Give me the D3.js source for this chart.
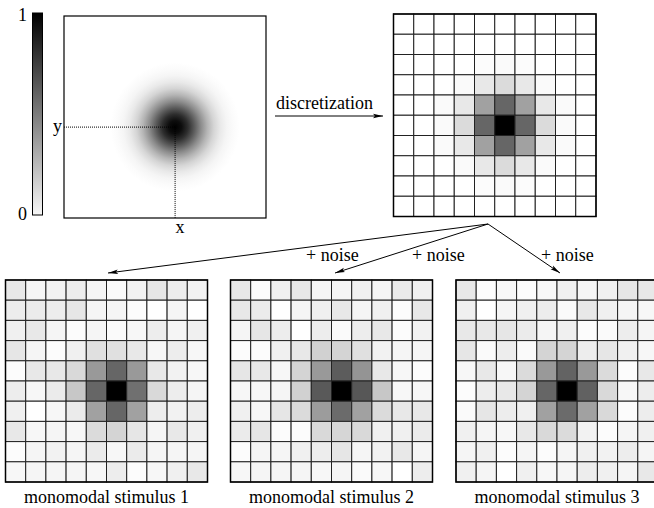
<!DOCTYPE html>
<html>
<head>
<meta charset="utf-8">
<script src="https://cdn.jsdelivr.net/npm/d3@7"></script>
<style>
  body { margin: 0; background: #fff; }
</style>
</head>
<body>
<svg id="fig" width="654" height="508" font-family="Liberation Serif, DejaVu Serif, serif" font-size="18"></svg>
<script>
// intensity of each cell, 0 = white, 1 = black
var discretized = [
  [0,0,0,0,0,0,0,0,0,0],
  [0,0,0,0,0,0,0,0,0,0],
  [0,0,0,0,0.01,0.02,0.01,0,0,0],
  [0,0,0,0.02,0.09,0.14,0.09,0.02,0,0],
  [0,0,0.02,0.09,0.37,0.6,0.37,0.09,0.02,0],
  [0,0,0.02,0.14,0.6,1,0.6,0.14,0.02,0],
  [0,0,0.02,0.09,0.37,0.6,0.37,0.09,0.02,0],
  [0,0,0,0.02,0.09,0.14,0.09,0.02,0,0],
  [0,0,0,0,0.01,0.02,0.01,0,0,0],
  [0,0,0,0,0,0,0,0,0,0]
];

var stimulus1 = [
  [0.09,0.04,0.05,0.07,0.04,0.02,0.05,0.1,0.07,0.05],
  [0.07,0.08,0.07,0.1,0.04,0.04,0.01,0,0.04,0],
  [0.06,0.09,0.04,0.01,0.04,0.02,0.03,0.07,0.04,0.06],
  [0.1,0.04,0.01,0.06,0.12,0.12,0.09,0.03,0.07,0.03],
  [0.01,0.09,0.09,0.15,0.4,0.6,0.4,0.09,0.05,0.03],
  [0.07,0.03,0.08,0.22,0.6,1,0.56,0.15,0.07,0.04],
  [0.06,0,0.03,0.08,0.37,0.6,0.37,0.07,0.05,0.07],
  [0.09,0.03,0.04,0.03,0.14,0.17,0.1,0.04,0.09,0.06],
  [0.01,0.04,0.05,0.04,0.08,0.03,0.08,0.04,0.04,0.04],
  [0.03,0.04,0.04,0.04,0.03,0.07,0.01,0.03,0.06,0.09]
];

var stimulus2 = [
  [0.09,0.01,0.06,0.09,0.04,0.04,0.06,0.04,0.08,0.06],
  [0.09,0.08,0,0.04,0.06,0.09,0.04,0.06,0.01,0.09],
  [0.04,0.1,0.07,0,0.07,0.02,0.07,0.09,0.01,0.05],
  [0.01,0.01,0.06,0.09,0.18,0.17,0.12,0.05,0.04,0.04],
  [0.1,0.09,0.03,0.17,0.4,0.64,0.42,0.09,0.03,0.01],
  [0.03,0.03,0.04,0.18,0.65,1,0.66,0.22,0.03,0.03],
  [0.06,0.03,0.1,0.14,0.39,0.58,0.37,0.14,0.09,0.09],
  [0.08,0.1,0.01,0.01,0.15,0.16,0.15,0.06,0.06,0.08],
  [0.01,0.04,0.04,0.06,0.07,0.1,0.04,0.05,0.09,0.04],
  [0.03,0.04,0.04,0.04,0.03,0.04,0.02,0.03,0,0.07]
];

var stimulus3 = [
  [0.09,0.01,0.03,0.01,0.03,0.06,0.04,0.06,0.1,0.09],
  [0.06,0,0.04,0.06,0.07,0.02,0.09,0.06,0.04,0.03],
  [0.09,0.09,0.1,0.08,0.04,0.06,0.01,0.02,0.07,0.04],
  [0.1,0.02,0.07,0.02,0.17,0.17,0.07,0.1,0.06,0.03],
  [0.03,0.09,0.03,0.14,0.4,0.61,0.4,0.14,0.01,0.09],
  [0.01,0.07,0.09,0.17,0.6,1,0.62,0.15,0.03,0.07],
  [0.02,0.1,0.07,0.06,0.37,0.58,0.37,0.15,0.01,0.07],
  [0.06,0.04,0.03,0.09,0.15,0.14,0.05,0.01,0.04,0.06],
  [0.04,0.06,0.01,0.04,0.01,0.04,0.06,0.05,0.07,0.04],
  [0.06,0.04,0,0.06,0.03,0.04,0.07,0.06,0.04,0.09]
];

var stimulusLabels = ["monomodal stimulus 1", "monomodal stimulus 2", "monomodal stimulus 3"];
var noiseLabels = ["+ noise", "+ noise", "+ noise"];
var colorbarTicks = [0, 1];

// radial profile of the continuous bump (fraction of radius -> intensity)
var bumpOffsets = [0, 0.1, 0.2, 0.3, 0.4, 0.5, 0.6, 0.7, 0.8, 0.9, 1];
var bumpIntensity = [1, 0.95, 0.82, 0.64, 0.45, 0.29, 0.165, 0.085, 0.04, 0.017, 0];

var svg = d3.select("#fig");
var gray = d3.scaleLinear().domain([0, 1]).range(["#ffffff", "#000000"]);
var defs = svg.append("defs");

defs.append("marker")
  .attr("id", "head")
  .attr("viewBox", "0 0 10 6")
  .attr("refX", 10).attr("refY", 3)
  .attr("markerWidth", 10).attr("markerHeight", 6)
  .attr("markerUnits", "userSpaceOnUse")
  .attr("orient", "auto")
  .append("path").attr("d", "M0,0.8 L10,3 L0,5.2 L2,3 Z").attr("fill", "#000");

// ---- colorbar
var cb = { x: 32.5, y0: 13, y1: 215, w: 10 };
var cbScale = d3.scaleLinear().domain([0, 1]).range([cb.y1, cb.y0]);
var lg = defs.append("linearGradient").attr("id", "cbgrad")
  .attr("x1", 0).attr("y1", 1).attr("x2", 0).attr("y2", 0);
lg.append("stop").attr("offset", 0).attr("stop-color", gray(0.03));
lg.append("stop").attr("offset", 1).attr("stop-color", gray(1));
svg.append("rect")
  .attr("x", cb.x).attr("y", cb.y0).attr("width", cb.w).attr("height", cb.y1 - cb.y0)
  .attr("fill", "url(#cbgrad)").attr("stroke", "#000").attr("stroke-width", 1);
svg.selectAll(".cbtick").data(colorbarTicks).enter().append("text")
  .attr("class", "cbtick")
  .attr("x", 27).attr("y", function(d) { return cbScale(d) + (d === 1 ? 8 : 5); })
  .attr("text-anchor", "end")
  .text(function(d) { return d; });

// ---- continuous panel
var panel = { x: 64, y: 16, size: 202 };
var pScale = d3.scaleLinear().domain([0, 10]).range([0, panel.size]);
var rg = defs.append("radialGradient").attr("id", "bump");
rg.selectAll("stop").data(bumpOffsets).enter().append("stop")
  .attr("offset", function(d) { return d; })
  .attr("stop-color", function(d, i) { return gray(bumpIntensity[i]); });
var pg = svg.append("g").attr("transform", "translate(" + panel.x + "," + panel.y + ")");
pg.append("rect").attr("width", panel.size).attr("height", panel.size).attr("fill", "#fff");
pg.append("circle")
  .attr("cx", pScale(5.5)).attr("cy", pScale(5.5)).attr("r", pScale(3.2))
  .attr("fill", "url(#bump)");
pg.append("line")
  .attr("x1", 0).attr("x2", pScale(5.5)).attr("y1", pScale(5.5)).attr("y2", pScale(5.5))
  .attr("stroke", "#000").attr("stroke-width", 1).attr("stroke-dasharray", "1,1");
pg.append("line")
  .attr("x1", pScale(5.5)).attr("x2", pScale(5.5)).attr("y1", pScale(5.5)).attr("y2", panel.size)
  .attr("stroke", "#000").attr("stroke-width", 1).attr("stroke-dasharray", "1,1");
pg.append("rect").attr("width", panel.size).attr("height", panel.size)
  .attr("fill", "none").attr("stroke", "#000").attr("stroke-width", 1.2);
pg.append("text").attr("x", -2).attr("y", pScale(5.5) + 5).attr("text-anchor", "end").text("y");
pg.append("text").attr("x", pScale(5.5) + 5).attr("y", panel.size + 15).attr("text-anchor", "middle").text("x");

// ---- grids
function drawGrid(data, x, y, size) {
  var sc = d3.scaleBand().domain(d3.range(10)).range([0, size]);
  var g = svg.append("g").attr("transform", "translate(" + x + "," + y + ")");
  data.forEach(function(row, r) {
    g.selectAll(".r" + r).data(row).enter().append("rect")
      .attr("x", function(d, c) { return sc(c); })
      .attr("y", sc(r))
      .attr("width", sc.bandwidth()).attr("height", sc.bandwidth())
      .attr("fill", function(d) { return gray(d); })
      .attr("stroke", "#222").attr("stroke-width", 1);
  });
  g.append("rect").attr("width", size).attr("height", size)
    .attr("fill", "none").attr("stroke", "#000").attr("stroke-width", 1.5);
  return g;
}

drawGrid(discretized, 393.5, 14, 202.5);

var stimuli = [stimulus1, stimulus2, stimulus3];
var stimX = [5.5, 230.5, 456];
stimuli.forEach(function(s, i) {
  var g = drawGrid(s, stimX[i], 280, 202);
  g.append("text").attr("x", 101).attr("y", 223).attr("text-anchor", "middle").text(stimulusLabels[i]);
});

// ---- arrows and labels
svg.append("line")
  .attr("x1", 275).attr("y1", 116).attr("x2", 383).attr("y2", 116)
  .attr("stroke", "#000").attr("stroke-width", 1).attr("marker-end", "url(#head)");
svg.append("text").attr("x", 276).attr("y", 109).text("discretization");

var origin = [488, 224];
var tips = [[108, 273], [335, 273], [560, 273]];
var noisePos = [[306, 261], [412, 261], [541, 261]];
tips.forEach(function(t, i) {
  svg.append("line")
    .attr("x1", origin[0]).attr("y1", origin[1]).attr("x2", t[0]).attr("y2", t[1])
    .attr("stroke", "#000").attr("stroke-width", 1).attr("marker-end", "url(#head)");
  svg.append("text").attr("x", noisePos[i][0]).attr("y", noisePos[i][1]).text(noiseLabels[i]);
});
</script>
</body>
</html>
